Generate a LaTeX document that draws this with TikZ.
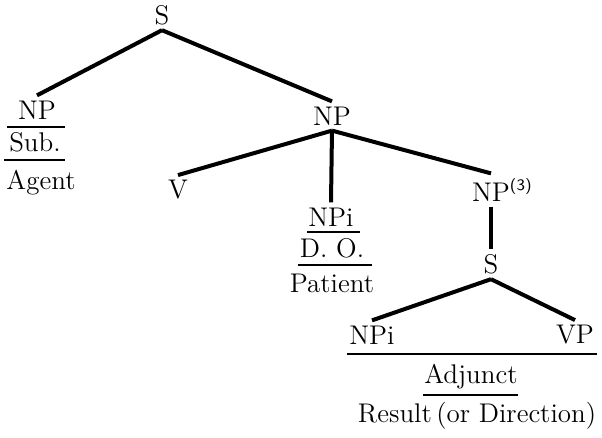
\documentclass[tikz,border=0pt]{standalone}
\usepackage{amssymb}
\usepackage{mathtools}
\usepackage{tikz}

\begin{document}
\begin{tikzpicture}[x=0.5pt, y=-0.5pt,
    cat/.style={font=\fontsize{13.5}{16}\selectfont, inner sep=2.5pt},
    branch/.style={line width=2pt},
    rule/.style={line width=0.9pt}]
            \useasboundingbox (0,0) rectangle (602,438);

            % Nodes
            \node[cat] (S) at (162, 15) {S};
            \node[cat] (NPa) at (37, 110) {NP};
            \node[cat] (NPb) at (332, 116) {NP};
            \node[cat] (V) at (178, 190) {V};
            \node[cat] (NPi) at (331, 217) {NPi};
            \node[cat] (NPc) at (491, 190) {NP\rlap{\textsuperscript{\sffamily\footnotesize(3)}}};
            \node[cat] (Sb) at (491, 264) {S};
            \node[cat] (NPj) at (372, 335) {NPi};
            \node[cat] (VP) at (575, 335) {VP};

            % Additional labels
            \node[cat] (Sub) at (35, 142) {Sub.};
            \node[cat] (Agent) at (41, 183) {Agent};
            \node[cat] (DO) at (332, 248) {D.~O.};
            \node[cat] (Patient) at (332, 283) {Patient};
            \node[cat] (Adjunct) at (471, 377) {Adjunct};
            \node[cat] (Result) at (477, 416) {Result\,(or Direction)};

            % Underlines
            \draw[rule] (7, 127) -- (65, 127);
            \draw[rule] (4, 160) -- (65, 160);
            \draw[rule] (307, 232) -- (360, 232);
            \draw[rule] (298, 265) -- (372, 265);
            \draw[rule] (347, 354) -- (597, 354);
            \draw[rule] (423, 395) -- (518, 395);

            % Edges
            \draw[branch] (S.south) -- (NPa.north);
            \draw[branch] (S.south) -- (NPb.north);
            \draw[branch] (NPb.south) -- (V.north);
            \draw[branch] (NPb.south) -- (NPi.north);
            \draw[branch] (NPb.south) -- (NPc.north);
            \draw[branch] (NPc.south) -- (Sb.north);
            \draw[branch] (Sb.south) -- (NPj.north);
            \draw[branch] (Sb.south) -- (VP.north);
        \end{tikzpicture}
\end{document}
